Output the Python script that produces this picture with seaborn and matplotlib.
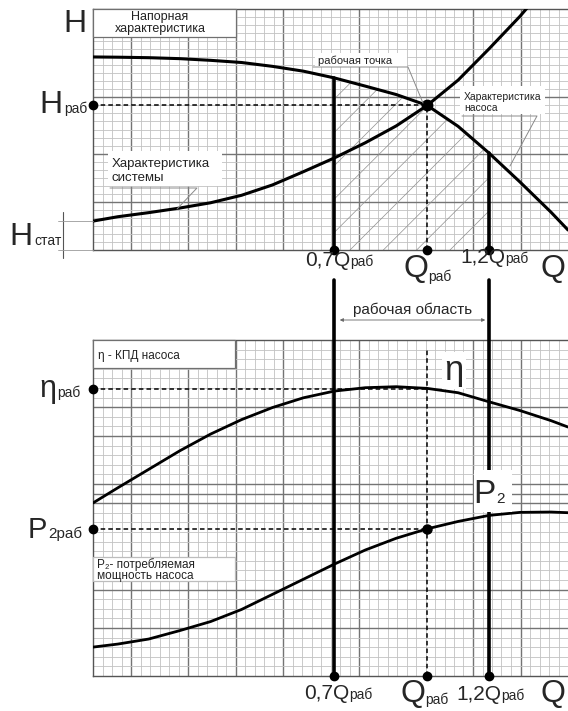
import numpy as np
import matplotlib
matplotlib.use("Agg")
import matplotlib.pyplot as plt
from matplotlib.patches import Rectangle, FancyArrowPatch
from matplotlib.lines import Line2D
import seaborn as sns

# flow as a fraction of Q_раб
Q = [-0.08, 0.0, 0.1, 0.2, 0.3, 0.4, 0.5, 0.6, 0.7, 0.8, 0.9, 1.0, 1.1, 1.2, 1.3, 1.4, 1.455]
H_PUMP = [8.01, 8.0, 7.98, 7.94, 7.87, 7.78, 7.62, 7.42, 7.14, 6.80, 6.45, 6.0, 5.13, 4.02, 2.82, 1.57, 0.83]
Q_SYS = [-0.08, 0.0, 0.1, 0.2, 0.3, 0.4, 0.5, 0.6, 0.7, 0.8, 0.9, 1.0, 1.1, 1.2, 1.3, 1.34]
H_SYS = [1.2, 1.38, 1.55, 1.74, 1.96, 2.27, 2.70, 3.25, 3.82, 4.45, 5.15, 6.0, 7.05, 8.35, 9.7, 10.3]
ETA = [5.15, 5.6, 6.15, 6.7, 7.2, 7.63, 7.99, 8.28, 8.48, 8.58, 8.61, 8.56, 8.43, 8.16, 7.9, 7.6, 7.41]
P2 = [0.86, 0.95, 1.1, 1.35, 1.62, 1.98, 2.43, 2.88, 3.33, 3.75, 4.1, 4.38, 4.6, 4.78, 4.87, 4.88, 4.86]

Q_LOW, Q_WORK, Q_HIGH = 0.7, 1.0, 1.2
H_WORK = 6.0
ETA_WORK = 8.55
P2_WORK = 4.38

W, H = 568, 711
XLIM = (-0.08, 1.455)
GAP_TOP = 11.8          # bottom-panel units, where the long lines start
XMAJ = [4, 10, 15, 20, 28, 40, 45]

sns.set_style("white")
plt.rcParams['font.family'] = ['Liberation Sans', 'DejaVu Sans']
plt.rcParams['hatch.linewidth'] = 0.5


def fx(px):
    return px / W


def fy(py):
    return 1 - py / H


def txt(x, y, s, size, ha='left', **kw):
    fig.text(fx(x), fy(y), s, size=size, ha=ha, va='baseline', zorder=7, **kw)


def box(x0, y0, x1, y1, edge='none'):
    fig.add_artist(Rectangle((fx(x0), fy(y1)), (x1 - x0) / W, (y1 - y0) / H,
                             transform=fig.transFigure, facecolor='white',
                             edgecolor=edge, lw=0.9, zorder=6))


def leader(pts, color='#8a8a8a', lw=0.7):
    xs = [fx(p[0]) for p in pts]
    ys = [fy(p[1]) for p in pts]
    fig.add_artist(Line2D(xs, ys, transform=fig.transFigure, color=color, lw=lw, zorder=7))


fig = plt.figure(figsize=(W / 100, H / 100), dpi=100)
ax1 = fig.add_axes([fx(93), fy(250), 475 / W, 241 / H])
ax2 = fig.add_axes([fx(93), fy(676), 475 / W, 336 / H])

for ax, n_y, ymaj in [(ax1, 30, [6, 12, 19]), (ax2, 35, [5, 9, 18, 19, 20, 25, 28])]:
    xs = np.linspace(XLIM[0], XLIM[1], 51)
    ys = np.linspace(0, 10, n_y + 1)
    ax.set_xlim(XLIM)
    ax.set_ylim(0, 10)
    ax.set_xticks(xs, minor=True)
    ax.set_yticks(ys, minor=True)
    ax.set_xticks(xs[XMAJ])
    ax.set_yticks(ys[ymaj])
    ax.grid(which='minor', color='#c2c2c2', lw=0.6)
    ax.grid(which='major', color='#747474', lw=1.0)
    ax.tick_params(which='both', length=0, labelbottom=False, labelleft=False)
    ax.set_axisbelow(True)
    for side in ['left', 'top', 'bottom']:
        ax.spines[side].set_color('#555555')
        ax.spines[side].set_linewidth(1.0)
    ax.spines['right'].set_visible(False)

# ---- top panel: head curves
i0, i1 = Q.index(Q_LOW), Q.index(Q_HIGH)
ax1.fill_between(Q[i0:i1 + 1], 0, H_PUMP[i0:i1 + 1], hatch='/', facecolor='none',
                 edgecolor='#8f8f8f', linewidth=0, zorder=1)
sns.lineplot(x=Q, y=H_PUMP, ax=ax1, color='black', lw=2.2, sort=False, estimator=None, zorder=3)
sns.lineplot(x=Q_SYS, y=H_SYS, ax=ax1, color='black', lw=2.2, sort=False, estimator=None, zorder=3)
ax1.set_xlim(XLIM)
ax1.set_ylim(0, 10)

ax1.plot([Q_LOW, Q_LOW], [0, H_PUMP[i0]], color='black', lw=2.6, zorder=3)
ax1.plot([Q_HIGH, Q_HIGH], [0, H_PUMP[i1]], color='black', lw=2.6, zorder=3)
ax1.plot([Q_WORK, Q_WORK], [0, H_WORK], color='black', lw=1.1, ls=(0, (3, 2)), zorder=3)
ax1.plot([XLIM[0], Q_WORK], [H_WORK, H_WORK], color='black', lw=1.1, ls=(0, (3, 2)), zorder=3)
ax1.plot([Q_LOW, Q_WORK, Q_HIGH], [0, 0, 0], 'o', color='black', ms=6, clip_on=False, zorder=4)
ax1.plot([XLIM[0]], [H_WORK], 'o', color='black', ms=6, clip_on=False, zorder=4)
ax1.plot([Q_WORK], [H_WORK], 'o', color='black', ms=7.5, clip_on=False, zorder=4)

# ---- bottom panel: efficiency and power
sns.lineplot(x=Q, y=ETA, ax=ax2, color='black', lw=2.0, sort=False, estimator=None, zorder=3)
sns.lineplot(x=Q, y=P2, ax=ax2, color='black', lw=2.0, sort=False, estimator=None, zorder=3)
ax2.set_xlim(XLIM)
ax2.set_ylim(0, 10)
ax2.plot([Q_LOW, Q_LOW], [0, GAP_TOP], color='black', lw=2.6, clip_on=False, zorder=3)
ax2.plot([Q_HIGH, Q_HIGH], [0, GAP_TOP], color='black', lw=2.6, clip_on=False, zorder=3)
ax2.plot([Q_WORK, Q_WORK], [0, 9.73], color='black', lw=1.1, ls=(0, (3, 2)), zorder=3)
ax2.plot([XLIM[0], Q_WORK], [ETA_WORK, ETA_WORK], color='black', lw=1.1, ls=(0, (3, 2)), zorder=3)
ax2.plot([XLIM[0], Q_WORK], [P2_WORK, P2_WORK], color='black', lw=1.1, ls=(0, (3, 2)), zorder=3)
ax2.plot([Q_LOW, Q_WORK, Q_HIGH], [0, 0, 0], 'o', color='black', ms=6, clip_on=False, zorder=4)
ax2.plot([XLIM[0], XLIM[0]], [ETA_WORK, P2_WORK], 'o', color='black', ms=6, clip_on=False, zorder=4)
ax2.plot([Q_WORK], [P2_WORK], 'o', color='black', ms=6.5, clip_on=False, zorder=4)

# ---- labels and callouts, top
box(93, 9, 236, 37, edge='#707070')
fig.text(fx(160), fy(23), 'Напорная\nхарактеристика', size=9, ha='center', va='center',
         linespacing=0.95, zorder=7, color='#222222')
box(108, 151, 222, 186)
txt(112, 167, 'Характеристика', 9.5, color='#222222')
txt(112, 181, 'системы', 9.5, color='#222222')
leader([(110, 188), (197, 188), (177, 209)])
box(315, 53, 407, 67)
txt(318, 64, 'рабочая точка', 8, color='#222222')
leader([(313, 67), (408, 67), (423, 103)])
box(460, 86, 545, 114)
txt(464, 100, 'Характеристика', 7.5, color='#222222')
txt(464, 111, 'насоса', 7.5, color='#222222')
leader([(462, 116), (537, 116), (510, 166)])

txt(75, 32, 'H', 23, ha='center')
txt(63, 113, 'H', 23, ha='right')
txt(64, 113, 'раб', 10)
txt(33, 245, 'H', 23, ha='right')
txt(34, 245, 'стат', 10)
leader([(63, 212), (63, 258)], color='#555555', lw=0.8)
leader([(58, 221), (93, 221)], color='#9a9a9a', lw=0.6)
leader([(58, 250), (93, 250)], color='#9a9a9a', lw=0.6)

txt(350, 266, '0,7Q', 15, ha='right')
txt(350, 266, 'раб', 10)
txt(428, 277, 'Q', 23, ha='right')
txt(428, 281, 'раб', 10)
txt(505, 263, '1,2Q', 15, ha='right')
txt(505, 263, 'раб', 10)
txt(553, 277, 'Q', 23, ha='center')

# ---- between the panels
fig.add_artist(FancyArrowPatch((fx(337), fy(320)), (fx(488), fy(320)), arrowstyle='<|-|>',
                               mutation_scale=5, transform=fig.transFigure, lw=0.6,
                               color='#666666', zorder=7))
txt(413, 314, 'рабочая область', 11, ha='center')

# ---- labels, bottom
box(93, 340, 235, 368, edge='#707070')
txt(98, 359, 'η - КПД насоса', 8.5, color='#222222')
txt(56, 397, 'η', 22, ha='right')
txt(57, 397, 'раб', 10)
fig.text(fx(454), fy(380), 'η', size=25, ha='center', va='baseline', zorder=7,
         bbox=dict(facecolor='white', edgecolor='none', pad=1.5))
box(474, 470, 512, 512)
txt(495, 503, 'P', 24, ha='right')
txt(496, 503, '2', 11)
txt(47, 538, 'P', 21, ha='right')
txt(48, 538, '2раб', 11)
box(93, 557, 235, 581, edge='#bdbdbd')
txt(97, 568, 'P₂- потребляемая', 8.5, color='#222222')
txt(97, 579, 'мощность насоса', 8.5, color='#222222')

txt(349, 699, '0,7Q', 15, ha='right')
txt(349, 699, 'раб', 10)
txt(425, 702, 'Q', 23, ha='right')
txt(425, 704, 'раб', 10)
txt(501, 700, '1,2Q', 15, ha='right')
txt(501, 700, 'раб', 10)
txt(553, 702, 'Q', 23, ha='center')

fig.savefig('out.png', dpi=100)
plt.close()
